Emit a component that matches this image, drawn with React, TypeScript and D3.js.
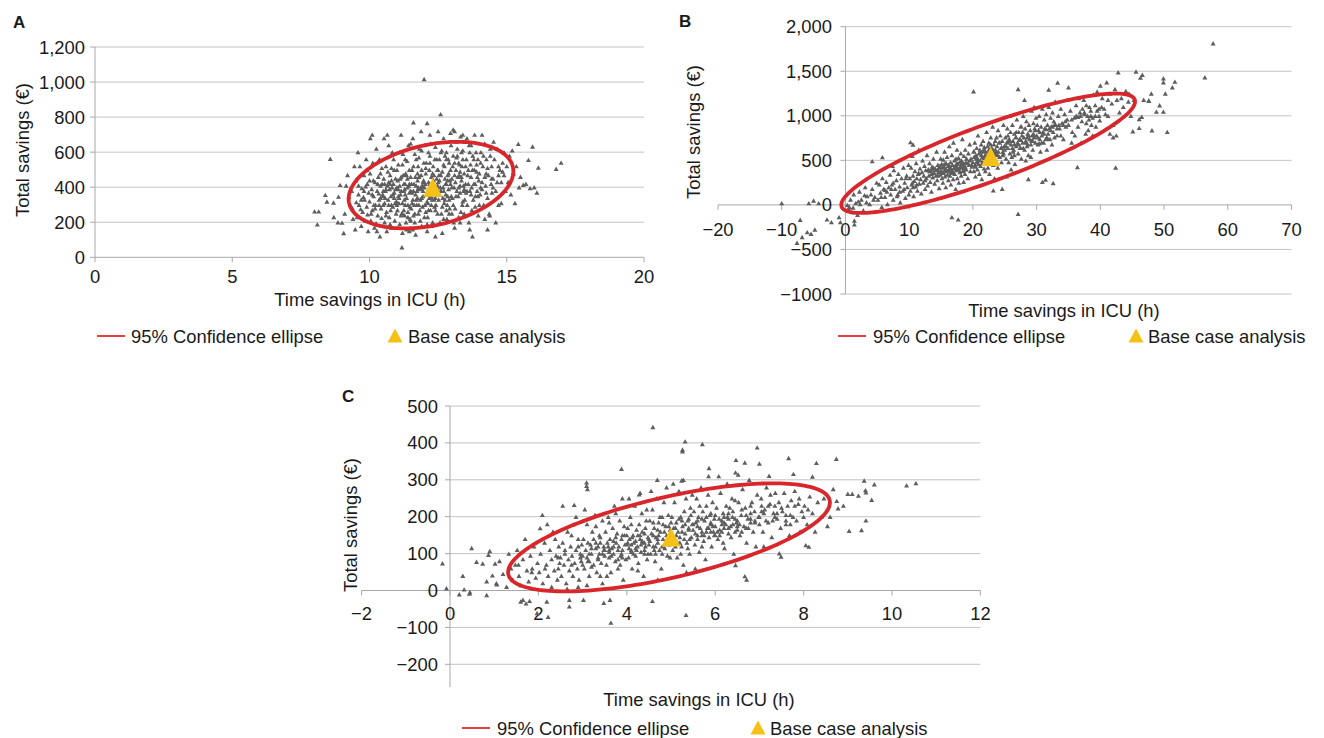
import React from "react";
import * as d3 from "d3";

type Pt = [number, number];

// ---------- Panel A data ----------
const A_POINTS: Pt[] = [
  [8.0,262],[8.15,262],[8.1,188],[8.57,562],[8.39,356],[8.45,318],[8.69,313],[8.87,346],[8.93,413],[8.85,200],[8.7,230],
  [9.06,139],[9.0,198],[9.1,250],[9.2,470],[9.3,300],[9.35,380],[9.15,410],[9.4,220],[9.45,520],[9.25,345],[9.48,160],[9.38,280],
  [9.5,440],[9.55,230],[9.6,360],[9.62,300],[9.65,520],[9.7,180],[9.72,395],[9.75,260],[9.8,470],[9.82,330],[9.85,210],[9.88,560],[9.9,290],[9.92,420],[9.95,150],[9.97,370],[9.58,600],[9.68,275],[9.78,345],[9.86,405],[9.52,315],[9.93,245],
  [10.0,320],[10.02,480],[10.05,210],[10.08,390],[10.1,270],[10.12,540],[10.15,350],[10.18,170],[10.2,430],[10.22,300],[10.25,620],[10.28,380],[10.3,240],[10.32,460],[10.35,330],[10.38,120],[10.4,410],[10.42,280],[10.45,510],[10.48,360],[10.03,680],[10.06,250],[10.14,440],[10.24,195],[10.34,365],[10.44,225],[10.16,300],[10.36,560],[10.46,420],[10.1,700],[10.27,150],[10.4,340],
  [10.5,300],[10.52,450],[10.55,200],[10.58,380],[10.6,520],[10.62,260],[10.65,410],[10.68,330],[10.7,640],[10.72,230],[10.75,470],[10.78,350],[10.8,170],[10.82,400],[10.85,290],[10.88,560],[10.9,370],[10.92,210],[10.95,450],[10.98,320],[10.53,680],[10.57,340],[10.63,150],[10.67,490],[10.73,390],[10.77,270],[10.83,600],[10.87,420],[10.93,310],[10.97,250],[10.55,420],[10.6,390],[10.7,300],[10.8,440],[10.9,500],[10.75,190],[10.65,700],[10.85,360],
  [11.0,400],[11.02,270],[11.05,530],[11.08,340],[11.1,190],[11.12,450],[11.15,380],[11.18,57],[11.2,310],[11.22,590],[11.25,420],[11.28,240],[11.3,360],[11.32,480],[11.35,160],[11.38,400],[11.4,300],[11.42,640],[11.45,370],[11.48,220],[11.03,440],[11.07,310],[11.13,360],[11.17,250],[11.23,470],[11.27,330],[11.33,200],[11.37,550],[11.43,410],[11.47,290],[11.05,390],[11.15,460],[11.25,380],[11.35,340],[11.45,500],[11.1,600],[11.2,140],[11.3,420],[11.4,260],[11.15,700],[11.45,150],[11.28,390],[11.38,450],
  [11.5,380],[11.52,280],[11.55,500],[11.58,330],[11.6,771],[11.62,420],[11.65,200],[11.68,360],[11.7,560],[11.72,300],[11.75,440],[11.78,250],[11.8,390],[11.82,620],[11.85,330],[11.88,470],[11.9,180],[11.92,410],[11.95,350],[11.98,540],[11.53,420],[11.57,160],[11.63,300],[11.67,460],[11.73,380],[11.77,520],[11.83,270],[11.87,400],[11.93,290],[11.97,440],[11.5,650],[11.6,240],[11.7,410],[11.8,460],[11.9,340],[11.55,370],[11.65,590],[11.75,340],[11.85,210],[11.95,430],[11.99,1017],[11.58,680],[11.68,130],[11.88,720],[11.78,400],
  [12.0,400],[12.02,300],[12.05,480],[12.08,360],[12.1,766],[12.12,230],[12.15,430],[12.18,340],[12.2,580],[12.22,270],[12.25,460],[12.28,380],[12.3,200],[12.32,520],[12.35,330],[12.38,410],[12.4,630],[12.42,300],[12.45,450],[12.48,250],[12.03,420],[12.07,540],[12.13,310],[12.17,370],[12.23,650],[12.27,180],[12.33,440],[12.37,290],[12.43,390],[12.47,500],[12.05,260],[12.15,600],[12.25,350],[12.35,470],[12.45,360],[12.1,150],[12.2,700],[12.3,420],[12.4,120],[12.0,640],[12.18,500],[12.28,330],[12.38,560],[12.48,410],[12.12,380],
  [12.5,430],[12.52,330],[12.55,560],[12.59,817],[12.6,380],[12.62,250],[12.65,490],[12.68,400],[12.7,680],[12.72,310],[12.75,450],[12.78,360],[12.8,600],[12.82,220],[12.85,470],[12.88,390],[12.9,540],[12.92,280],[12.95,420],[12.98,350],[12.53,470],[12.57,200],[12.63,610],[12.67,340],[12.73,520],[12.77,420],[12.83,300],[12.87,560],[12.93,440],[12.97,640],[12.5,720],[12.6,470],[12.7,380],[12.8,420],[12.9,250],[12.55,360],[12.65,140],[12.75,580],[12.85,350],[12.95,710],[12.58,400],[12.88,480],
  [13.0,450],[13.02,340],[13.05,580],[13.08,400],[13.1,720],[13.12,280],[13.15,500],[13.18,380],[13.2,620],[13.22,460],[13.25,230],[13.28,530],[13.3,370],[13.32,690],[13.35,440],[13.38,300],[13.4,560],[13.42,410],[13.45,480],[13.48,660],[13.03,520],[13.07,200],[13.13,430],[13.17,570],[13.23,350],[13.27,470],[13.33,260],[13.37,520],[13.43,380],[13.47,330],[13.05,730],[13.15,660],[13.25,400],[13.35,600],[13.45,250],[13.1,170],[13.3,490],[13.4,700],
  [13.5,420],[13.53,560],[13.56,300],[13.6,500],[13.63,640],[13.66,380],[13.7,460],[13.73,270],[13.76,580],[13.8,420],[13.83,700],[13.86,350],[13.9,530],[13.93,460],[13.96,240],[13.52,370],[13.58,470],[13.62,200],[13.68,530],[13.72,400],[13.78,330],[13.82,500],[13.88,600],[13.92,380],[13.98,440],[13.55,680],[13.65,160],[13.75,120],[13.85,290],[13.95,560],
  [14.0,480],[14.03,360],[14.06,600],[14.1,430],[14.13,520],[14.16,300],[14.2,650],[14.23,410],[14.26,560],[14.3,340],[14.33,470],[14.36,250],[14.4,580],[14.43,420],[14.46,370],[14.1,700],[14.2,220],[14.3,160],[14.38,240],[14.05,540],[14.25,480],[14.45,520],
  [14.5,450],[14.55,560],[14.6,380],[14.65,620],[14.7,300],[14.75,500],[14.8,430],[14.85,540],[14.9,600],[14.95,380],[14.6,200],[14.7,520],[14.8,310],[14.9,470],[14.52,660],
  [15.0,520],[15.05,430],[15.1,580],[15.15,360],[15.2,610],[15.25,480],[15.3,310],[15.35,520],[15.42,647],[15.45,400],
  [15.5,460],[15.6,414],[15.7,420],[15.79,556],[15.85,395],[15.94,632],[16.0,400],[16.1,370],[16.15,512],[16.8,505],[16.98,540]
];
const A_POINTS_CORE: Pt[] = [
  [10.1,360],[10.3,420],[10.5,350],[10.7,430],[10.9,340],[11.1,410],[11.3,300],[11.5,460],[11.7,330],[11.9,500],[12.1,320],[12.3,480],[12.5,380],[12.7,530],[12.9,330],[13.1,470],[13.3,410],[13.5,520],[13.7,360],[13.9,490],[14.1,390],[14.3,510],[14.5,400],[14.7,470],
  [10.2,280],[10.4,480],[10.6,240],[10.8,510],[11.0,300],[11.2,530],[11.4,230],[11.6,380],[11.8,570],[12.0,230],[12.2,420],[12.4,340],[12.6,600],[12.8,270],[13.0,400],[13.2,580],[13.4,320],[13.6,420],[13.8,560],[14.0,300],[14.2,460],[14.4,620],
  [9.6,410],[9.8,380],[10.0,440],[9.7,330],[9.9,500],[11.05,350],[11.25,270],[11.45,420],[11.65,250],[11.85,390],[12.05,510],[12.25,300],[12.45,560],[12.65,290],[12.85,440],[13.05,300],[13.25,540],[13.45,390],[13.65,600],[13.85,420],[14.05,400],[14.25,370],[14.45,450],[14.65,430],[14.85,490],
  [10.35,300],[10.55,310],[10.75,420],[10.95,390],[11.15,240],[11.35,470],[11.55,310],[11.75,480],[11.95,380],[12.15,270],[12.35,400],[12.55,440],[12.75,330],[12.95,500],[13.15,350],[13.35,460],[13.55,380],[13.75,500],[13.95,350],[14.15,580],
  [11.0,500],[11.3,560],[11.6,520],[11.9,610],[12.2,540],[12.5,500],[12.8,560],[13.1,540],[13.4,610],[13.7,640],[11.2,250],[11.5,210],[11.8,300],[12.1,190],[12.4,270],[12.7,220],[13.0,250],[13.3,200],[10.5,380],[10.8,300]
];
const A_ELLIPSE = { cx: 12.24, cy: 412, rx: 3.0, ry: 247, rho: 0.32 };
const A_BASE: Pt = [12.3, 400];
const A_X_TICKS = [0, 5, 10, 15, 20];
const A_X_LABELS = ["0", "5", "10", "15", "20"];
const A_Y_TICKS = [0, 200, 400, 600, 800, 1000, 1200];
const A_Y_LABELS = ["0", "200", "400", "600", "800", "1,000", "1,200"];

// ---------- Panel B data ----------
const B_POINTS: Pt[] = [
  [-10.0,20],[-7.1,-166],[-5.75,20],[-5.0,50],[-4.2,20],[-6.0,-305],[-5.4,-323],[-6.8,-360],[-7.6,-425],[-4.8,-276],[-2.9,-163],[-2.2,-193],[-1.0,-137],[-0.8,-193],[0.3,0],[0.6,-20],[1.4,-219],[1.4,-175],[16.7,-137],[17.7,-163],[4.2,491],[5.8,536],[10.2,704],[10.6,678],[7.4,440],[20.1,1276],
  [0.5,-40],[0.8,60],[1.0,-80],[1.3,120],[1.6,20],[1.9,-110],[2.2,150],[2.5,60],[2.8,-60],[3.1,200],[3.4,100],[3.8,10],[4.2,180],[4.6,90],[4.9,250],
  [5.1,60],[5.3,230],[5.5,140],[5.7,-20],[5.8,300],[6.0,180],[6.2,90],[6.4,260],[6.6,10],[6.8,200],[7.0,340],[7.1,120],[7.3,230],[7.5,60],[7.6,390],[7.8,180],[8.0,280],[8.1,100],[8.3,350],[8.5,210],[8.6,30],[8.8,300],[9.0,160],[9.1,420],[9.3,250],[9.4,80],[9.6,330],[9.7,200],[9.9,450],[9.95,120],
  [10.1,300],[10.2,160],[10.3,420],[10.4,230],[10.5,550],[10.6,330],[10.7,100],[10.8,270],[10.9,380],[11.0,210],[11.1,470],[11.2,300],[11.3,160],[11.4,350],[11.5,620],[11.6,240],[11.7,410],[11.8,290],[11.9,130],[12.0,370],[12.1,500],[12.2,250],[12.3,330],[12.4,440],[12.5,180],[12.6,390],[12.7,300],[12.8,560],[12.9,220],[13.0,400],[13.1,330],[13.2,470],[13.3,260],[13.4,380],[13.5,150],[13.6,430],[13.7,310],[13.8,520],[13.9,360],[14.0,240],[14.1,410],[14.2,330],[14.3,600],[14.4,280],[14.5,450],[14.6,370],[14.7,190],[14.8,420],[14.9,340],[14.95,520],
  [15.0,380],[15.1,460],[15.15,300],[15.2,420],[15.3,250],[15.35,510],[15.4,360],[15.5,430],[15.55,600],[15.6,320],[15.7,400],[15.75,200],[15.8,470],[15.9,380],[15.95,540],[16.0,340],[16.1,440],[16.15,280],[16.2,390],[16.3,660],[16.35,420],[16.4,330],[16.5,480],[16.55,230],[16.6,400],[16.7,560],[16.75,360],[16.8,450],[16.9,290],[16.95,700],[17.0,410],[17.1,500],[17.15,350],[17.2,440],[17.3,180],[17.35,520],[17.4,390],[17.5,620],[17.55,300],[17.6,460],[17.7,400],[17.75,530],[17.8,250],[17.9,480],[17.95,370],[18.0,430],[18.1,580],[18.15,330],[18.2,500],[18.3,420],[18.35,740],[18.4,380],[18.5,470],[18.55,260],[18.6,550],[18.7,440],[18.75,350],[18.8,620],[18.9,480],[18.95,400],[19.0,520],[19.2,300],[19.3,580],[19.4,450],[19.5,680],[19.6,380],[19.7,520],[19.85,430],
  [20.0,480],[20.1,600],[20.15,380],[20.2,540],[20.3,700],[20.35,450],[20.4,320],[20.5,560],[20.55,480],[20.6,640],[20.7,400],[20.75,520],[20.8,780],[20.9,460],[20.95,580],[21.0,350],[21.1,620],[21.15,500],[21.2,440],[21.3,680],[21.35,560],[21.4,290],[21.5,600],[21.55,480],[21.6,720],[21.7,530],[21.75,410],[21.8,650],[21.9,560],[21.95,380],[22.0,600],[22.1,480],[22.15,820],[22.2,540],[22.3,660],[22.35,420],[22.4,580],[22.5,700],[22.55,500],[22.6,350],[22.7,620],[22.75,560],[22.8,760],[22.9,480],[22.95,640],[23.0,540],[23.1,880],[23.15,600],[23.2,450],[23.3,680],[23.35,560],[23.4,300],[23.5,720],[23.55,620],[23.6,500],[23.7,760],[23.75,580],[23.8,660],[23.9,420],[23.95,840],[24.0,600],[24.1,700],[24.2,540],[24.3,780],[24.4,640],[24.5,480],[24.6,720],[24.7,600],[24.8,900],[24.9,660],[23.2,163],[24.6,182],
  [25.0,620],[25.1,760],[25.2,520],[25.3,700],[25.4,860],[25.5,640],[25.6,480],[25.7,740],[25.8,580],[25.9,820],[26.0,680],[26.1,540],[26.2,900],[26.3,720],[26.4,620],[26.5,800],[26.6,460],[26.7,760],[26.8,660],[26.9,960],[27.0,700],[27.1,580],[27.2,820],[27.3,740],[27.4,640],[27.5,880],[27.6,520],[27.7,780],[27.8,700],[27.9,1000],[28.0,760],[28.1,620],[28.2,860],[28.3,720],[28.4,940],[28.5,660],[28.6,800],[28.7,560],[28.8,900],[28.9,740],[29.0,840],[29.1,680],[29.2,1060],[29.3,780],[29.4,620],[29.5,920],[29.6,760],[29.7,860],[29.8,700],[29.9,980],[25.3,320],[26.0,400],[27.1,-99],[27.1,1300],[28.1,1180],[28.7,291],[25.8,1000],[26.5,560],[27.6,880],[28.3,500],[29.1,540],[29.6,1100],[25.5,780],[26.8,820],[27.9,640],
  [30.0,780],[30.1,900],[30.2,680],[30.3,840],[30.4,1000],[30.5,740],[30.6,600],[30.7,880],[30.8,780],[30.9,1080],[30.9,258],[31.4,284],[31.9,1295],[32.6,246],[33.3,1373],[31.0,820],[31.1,700],[31.2,960],[31.3,860],[31.4,740],[31.5,1020],[31.6,620],[31.7,900],[31.8,800],[31.9,1100],[32.0,860],[32.1,740],[32.2,980],[32.3,880],[32.4,680],[32.5,1040],[32.6,820],[32.7,940],[32.8,760],[32.9,1160],[33.0,900],[33.2,780],[33.4,1000],[33.6,860],[33.8,1080],[34.0,920],[34.2,740],[34.4,1020],[34.6,880],[34.8,1180],
  [35.0,1320],[35.0,900],[35.3,1060],[35.6,820],[35.9,980],[36.2,1120],[36.4,426],[36.5,880],[36.8,1040],[37.1,940],[37.4,1180],[37.7,800],[38.0,1000],[38.3,1100],[38.6,900],[38.9,1240],[39.2,1000],[39.5,1273],[39.8,1080],[40.0,1340],[35.5,700],[36.0,780],[36.6,1200],[37.0,700],[37.5,1020],[38.1,840],[38.8,780],[39.3,880],[39.9,950],[36.9,1000],[37.8,1120],[38.5,1060],
  [40.3,1200],[40.6,1080],[41.0,1377],[41.2,1000],[41.5,1250],[41.8,1140],[42.0,900],[42.3,1300],[42.4,420],[42.6,1180],[42.8,1489],[43.0,1040],[43.3,1200],[43.6,1100],[44.0,1280],[44.4,1160],[44.8,1000],[42.0,760],[42.5,780],[41.5,800],
  [45.1,827],[45.6,1497],[46.1,864],[46.1,964],[46.3,1430],[46.5,990],[46.6,1460],[47.6,1168],[47.6,1175],[48.0,1250],[48.1,838],[48.8,1047],[49.3,1118],[49.9,1047],[49.9,1422],[49.9,1377],[50.2,1250],[50.5,820],[51.3,1320],[51.7,1384],[56.4,1433],[57.7,1814],[45.3,1180],[46.8,1180],[44.5,1250]
];
const B_POINTS_CORE: Pt[] = [
  [6.5,150],[7.5,250],[8.5,150],[9.5,300],[10.5,250],[11.5,360],[12.5,280],[13.5,400],[14.5,330],[15.5,380],[16.5,420],[17.5,470],[18.5,420],[19.5,500],[20.5,520],[21.5,540],[22.5,620],[23.5,580],[24.5,650],[25.5,700],[26.5,680],[27.5,730],[28.5,760],[29.5,800],[30.5,820],[31.5,850],[32.5,880],[33.5,900],[34.5,940],[35.5,960],[36.5,990],[37.5,1040],[38.5,1000],[39.5,1060],
  [13.2,380],[13.8,420],[14.2,390],[14.8,440],[15.2,370],[15.8,400],[16.2,450],[16.8,380],[17.2,420],[17.8,400],[18.2,460],[18.8,430],[19.2,470],[19.8,450],[14.5,400],[15.5,460],[16.5,370],[17.5,430],[18.5,390],[13.5,350],
  [20.2,600],[20.8,500],[21.2,580],[21.8,620],[22.2,500],[22.8,680],[23.2,620],[23.8,560],[24.2,700],[24.8,580],[25.2,660],[25.8,720],[26.2,640],[26.8,760],[27.2,680],[27.8,820],[28.2,700],[28.8,780],[29.2,720],[29.8,840],[30.2,760],[30.8,700],[31.2,800],[31.8,740],[32.2,840],[32.8,900],[33.2,860],[33.8,780],[34.2,900],[34.8,960],
  [28.6,680],[29.4,720],[30.4,690],[31.6,760],[27.5,640],[26.3,600],[24.7,560],[23.3,520],[21.6,470],[20.4,430],[11.2,230],[10.6,200],[9.2,180],[8.2,120],[7.2,180],[6.2,170],[5.6,90],[4.4,60],[3.3,30],[2.3,10],[1.2,-30],[2.0,40],[3.0,110],[4.0,120],
  [36.2,1000],[37.2,1080],[38.2,960],[39.2,1120],[40.2,1100],[41.2,1180],[40.8,1020],[39.8,1000],[38.8,980],[37.8,920]
];
const B_ELLIPSE = { cx: 22.4, cy: 580, rx: 23.05, ry: 670, rho: 0.866 };
const B_BASE: Pt = [22.8, 543];
const B_X_TICKS = [-20, -10, 0, 10, 20, 30, 40, 50, 60, 70];
const B_X_LABELS = ["\u221220", "\u221210", "0", "10", "20", "30", "40", "50", "60", "70"];
const B_Y_TICKS = [-1000, -500, 0, 500, 1000, 1500, 2000];
const B_Y_LABELS = ["\u22121000", "\u2212500", "0", "500", "1,000", "1,500", "2,000"];

// ---------- Panel C data ----------
const C_POINTS: Pt[] = [
  [-0.17,74],[-0.08,6],[0.29,40],[0.49,115],[0.32,3],[0.21,-10],[0.44,-8],[0.45,-4],[0.6,78],[0.74,73],[0.9,107],[0.87,97],[0.83,25],[0.96,41],[1.02,73],[0.83,-12],[1.06,17],[1.65,-25],[1.72,-35],[1.8,-28],[1.6,-30],[1.97,-61],[2.19,-30],[2.22,-71],[2.7,-25],[2.7,-43],[3.02,-25],[3.48,-33],[3.62,-25],[3.64,-87],[4.58,-28],[5.34,-66],
  [4.59,443],[5.32,404],[5.26,382],[5.26,377],[5.71,397],[3.88,330],[3.09,293],[3.09,284],[3.11,275],[4.28,261],[4.69,300],[5.24,298],[2.81,232],[2.09,205],[2.04,169],
  [1.05,20],[1.12,80],[1.2,45],[1.28,10],[1.33,100],[1.38,60],[1.42,30],[1.48,70],
  [1.52,110],[1.56,40],[1.6,15],[1.65,85],[1.7,140],[1.74,55],[1.78,25],[1.82,95],[1.86,60],[1.9,120],[1.94,35],[1.98,75],
  [2.02,50],[2.05,100],[2.1,20],[2.14,130],[2.18,70],[2.22,40],[2.26,110],[2.3,85],[2.33,160],[2.36,55],[2.4,95],[2.43,30],[2.46,120],[2.48,75],[2.2,180],[2.3,10],[2.38,140],[2.45,60],
  [2.5,90],[2.52,40],[2.55,130],[2.58,70],[2.6,110],[2.63,20],[2.66,160],[2.68,85],[2.7,55],[2.73,120],[2.76,95],[2.78,40],[2.8,180],[2.82,75],[2.85,110],[2.88,60],[2.9,140],[2.92,30],[2.95,100],[2.97,80],[2.55,230],[2.65,5],[2.75,150],[2.85,200],[2.9,10],[2.98,125],
  [3.0,95],[3.02,140],[3.04,60],[3.07,110],[3.1,180],[3.12,80],[3.15,40],[3.18,125],[3.2,100],[3.22,160],[3.25,70],[3.28,205],[3.3,115],[3.32,50],[3.35,90],[3.38,150],[3.4,130],[3.42,75],[3.45,20],[3.48,110],[3.05,220],[3.1,15],[3.15,100],[3.2,65],[3.25,140],[3.3,175],[3.35,85],[3.4,40],[3.45,190],[3.48,120],[3.12,130],[3.38,100],
  [3.5,110],[3.52,160],[3.54,70],[3.56,130],[3.58,200],[3.6,90],[3.62,140],[3.64,50],[3.66,115],[3.68,170],[3.7,100],[3.72,230],[3.74,80],[3.76,130],[3.78,155],[3.8,60],[3.82,120],[3.84,190],[3.86,95],[3.88,140],[3.9,110],[3.92,30],[3.94,175],[3.96,125],[3.98,85],[3.55,40],[3.6,185],[3.65,95],[3.7,135],[3.75,210],[3.8,110],[3.85,70],[3.9,250],[3.95,150],[3.58,120],[3.88,100],
  [4.0,125],[4.02,170],[4.04,90],[4.06,140],[4.08,200],[4.1,110],[4.12,60],[4.14,150],[4.16,130],[4.18,230],[4.2,95],[4.22,165],[4.24,120],[4.26,75],[4.28,180],[4.3,140],[4.32,105],[4.34,210],[4.36,130],[4.38,40],[4.4,155],[4.42,120],[4.44,190],[4.46,85],[4.48,145],[4.05,250],[4.1,180],[4.15,100],[4.2,135],[4.25,55],[4.3,265],[4.35,160],[4.4,110],[4.45,220],[4.48,100],[4.02,130],[4.12,145],[4.22,110],[4.32,125],[4.42,170],
  [4.5,140],[4.52,190],[4.54,100],[4.56,155],[4.58,220],[4.6,120],[4.62,170],[4.64,80],[4.66,145],[4.68,250],[4.7,130],[4.72,185],[4.74,110],[4.76,160],[4.78,60],[4.8,200],[4.82,140],[4.84,240],[4.86,115],[4.88,175],[4.9,150],[4.92,95],[4.94,205],[4.96,130],[4.98,165],[4.55,270],[4.6,150],[4.65,120],[4.7,30],[4.75,200],[4.8,100],[4.85,160],[4.9,280],[4.95,125],[4.52,135],[4.62,110],[4.72,150],[4.82,180],[4.92,140],[4.98,90],
  [5.0,150],[5.02,200],[5.04,110],[5.06,170],[5.08,240],[5.1,135],[5.12,185],[5.14,90],[5.16,160],[5.18,270],[5.2,145],[5.22,200],[5.24,120],[5.26,175],[5.28,70],[5.3,215],[5.32,155],[5.34,250],[5.36,130],[5.38,190],[5.4,165],[5.42,100],[5.44,225],[5.46,145],[5.48,180],[5.05,290],[5.15,130],[5.25,160],[5.35,50],[5.45,205],[5.12,150],[5.22,100],[5.32,180],[5.42,140],[5.48,260],[5.18,195],[5.38,115],[5.28,300],
  [5.5,165],[5.52,215],[5.54,125],[5.56,185],[5.58,250],[5.6,150],[5.62,200],[5.64,105],[5.66,170],[5.68,280],[5.7,160],[5.72,215],[5.74,135],[5.76,190],[5.78,85],[5.8,230],[5.82,170],[5.84,260],[5.86,145],[5.88,205],[5.9,180],[5.92,120],[5.94,240],[5.96,160],[5.98,195],[5.55,60],[5.65,230],[5.75,150],[5.85,310],[5.95,175],[5.6,190],[5.7,120],[5.8,160],[5.9,210],[5.98,150],[5.86,332],
  [6.0,175],[6.03,225],[6.06,140],[6.09,195],[6.12,265],[6.15,160],[6.18,210],[6.21,115],[6.24,180],[6.27,290],[6.3,170],[6.33,225],[6.36,145],[6.39,200],[6.42,100],[6.45,245],[6.48,185],[6.05,160],[6.1,150],[6.15,190],[6.2,170],[6.25,230],[6.3,155],[6.35,175],[6.4,215],[6.45,160],[6.08,310],[6.18,130],[6.28,200],[6.38,250],[6.46,320],[6.47,354],
  [6.5,190],[6.53,240],[6.56,150],[6.59,205],[6.62,275],[6.65,175],[6.68,225],[6.71,130],[6.74,195],[6.77,300],[6.8,185],[6.83,240],[6.86,160],[6.89,215],[6.92,120],[6.95,260],[6.98,200],[6.55,180],[6.6,220],[6.7,170],[6.8,230],[6.9,190],[6.52,314],[6.67,347],[6.67,39],[6.71,30],[6.46,69],[6.95,388],
  [7.0,200],[7.04,250],[7.08,160],[7.12,220],[7.16,280],[7.2,185],[7.24,235],[7.28,145],[7.32,210],[7.36,265],[7.4,195],[7.44,240],[7.48,170],[7.05,215],[7.15,190],[7.25,260],[7.35,230],[7.45,101],[7.49,92],[7.0,344],[7.22,311],[7.1,120],
  [7.52,215],[7.56,265],[7.6,180],[7.64,230],[7.68,150],[7.72,245],[7.76,200],[7.8,270],[7.84,190],[7.88,235],[7.92,160],[7.96,215],[7.66,359],[7.77,316],[7.6,205],[7.9,250],
  [8.02,230],[8.08,180],[8.14,255],[8.2,210],[8.26,160],[8.32,240],[8.4,200],[8.46,250],[8.05,123],[8.12,119],[8.2,309],[8.29,346],
  [8.54,175],[8.67,275],[8.75,243],[8.78,223],[8.74,357],[9.0,262],[9.03,162],[9.1,262],[9.24,257],[9.31,164],[9.37,298],[9.4,272],[9.41,266],[9.41,190],[9.54,246],[9.6,288],[10.33,285],[10.54,291],[8.6,200],[8.9,230]
];
const C_POINTS_CORE: Pt[] = [
  [2.6,100],[2.9,120],[3.1,90],[3.3,130],[3.5,95],[3.7,120],[3.9,150],[4.1,105],[4.3,150],[4.5,125],[4.7,165],[4.9,130],[5.1,170],[5.3,140],[5.5,180],[5.7,150],[5.9,185],[6.1,165],[6.3,195],[6.5,175],[6.7,205],[6.9,185],[7.1,210],[7.3,190],[7.5,225],[7.7,205],
  [3.0,70],[3.2,115],[3.4,145],[3.6,105],[3.8,85],[4.0,150],[4.2,115],[4.4,100],[4.6,185],[4.8,120],[5.0,185],[5.2,130],[5.4,195],[5.6,140],[5.8,200],[6.0,150],[6.2,200],[6.4,180],[6.6,160],[6.8,210],[7.0,180],[7.2,230],[7.4,210],[7.6,190],[7.8,230],[8.0,200],
  [3.15,80],[3.45,100],[3.75,145],[4.05,115],[4.35,135],[4.65,100],[4.95,175],[5.25,190],[5.55,155],[5.85,170],[6.15,180],[6.45,195],[6.75,170],[7.05,230],[7.35,200],[2.75,70],[2.45,90],[2.15,60],[1.85,50],[1.55,70],
  [5.6,175],[5.9,160],[6.2,185],[6.5,165],[6.8,195],[6.0,205],[6.3,210],[5.7,195],[4.4,130],[4.1,125],[3.9,90],[3.6,110],[4.7,140],[5.1,120],[5.4,170],[4.25,150],[3.35,120],[2.95,90],[7.7,180],[8.1,220]
];
const C_ELLIPSE = { cx: 4.955, cy: 144, rx: 3.64, ry: 146.4, rho: 0.646 };
const C_BASE: Pt = [5.0, 145];
const C_X_TICKS = [-2, 0, 2, 4, 6, 8, 10, 12];
const C_X_LABELS = ["\u22122", "0", "2", "4", "6", "8", "10", "12"];
const C_Y_TICKS = [-200, -100, 0, 100, 200, 300, 400, 500];
const C_Y_LABELS = ["\u2212200", "\u2212100", "0", "100", "200", "300", "400", "500"];

const X_TITLE = "Time savings in ICU (h)";
const Y_TITLE = "Total savings (\u20ac)";
const LEGEND_ELLIPSE = "95% Confidence ellipse";
const LEGEND_BASE = "Base case analysis";

const FONT = "'Liberation Sans', Arial, Helvetica, sans-serif";
const GRID = "#c4c4c4";
const AXIS = "#a8a8a8";
const DOT = "#5e5e5e";
const RED = "#d9262b";
const GOLD = "#f5c116";

type PanelCfg = {
  letter: string;
  letterPos: [number, number];
  points: Pt[];
  ellipse: { cx: number; cy: number; rx: number; ry: number; rho: number };
  base: Pt;
  xTicks: number[];
  xLabels: string[];
  yTicks: number[];
  yLabels: string[];
  xDomain: [number, number];
  xRange: [number, number];
  yDomain: [number, number];
  yRange: [number, number];
  yAxisMin: number;
  yLabelRight: number;
  xLabelOffset: number;
  yTitlePos: [number, number];
  xTitlePos: [number, number];
  legend: { y: number; lineX: number; textX: number; triX: number; text2X: number };
};

const PANELS: PanelCfg[] = [
  {
    letter: "A", letterPos: [13, 28], points: A_POINTS.concat(A_POINTS_CORE), ellipse: A_ELLIPSE, base: A_BASE,
    xTicks: A_X_TICKS, xLabels: A_X_LABELS, yTicks: A_Y_TICKS, yLabels: A_Y_LABELS,
    xDomain: [0, 20], xRange: [95, 644], yDomain: [0, 1200], yRange: [257.3, 47], yAxisMin: 0,
    yLabelRight: 85, xLabelOffset: 26, yTitlePos: [22, 150], xTitlePos: [370, 306],
    legend: { y: 336, lineX: 97, textX: 131, triX: 395, text2X: 408 },
  },
  {
    letter: "B", letterPos: [679, 27], points: B_POINTS.concat(B_POINTS_CORE), ellipse: B_ELLIPSE, base: B_BASE,
    xTicks: B_X_TICKS, xLabels: B_X_LABELS, yTicks: B_Y_TICKS, yLabels: B_Y_LABELS,
    xDomain: [-20, 70], xRange: [718, 1291.5], yDomain: [-1000, 2000], yRange: [294, 26.7], yAxisMin: -1000,
    yLabelRight: 832, xLabelOffset: 31.5, yTitlePos: [693, 132], xTitlePos: [1064, 317],
    legend: { y: 336, lineX: 838, textX: 873, triX: 1136, text2X: 1148 },
  },
  {
    letter: "C", letterPos: [342, 402], points: C_POINTS.concat(C_POINTS_CORE), ellipse: C_ELLIPSE, base: C_BASE,
    xTicks: C_X_TICKS, xLabels: C_X_LABELS, yTicks: C_Y_TICKS, yLabels: C_Y_LABELS,
    xDomain: [-2, 12], xRange: [361.6, 980.4], yDomain: [-200, 500], yRange: [664.3, 406], yAxisMin: -262,
    yLabelRight: 438, xLabelOffset: 29, yTitlePos: [350, 525], xTitlePos: [699, 706],
    legend: { y: 728, lineX: 462, textX: 497, triX: 758, text2X: 770 },
  },
];

function Panel({ cfg }: { cfg: PanelCfg }) {
  const x = d3.scaleLinear().domain(cfg.xDomain).range(cfg.xRange);
  const y = d3.scaleLinear().domain(cfg.yDomain).range(cfg.yRange);
  const x0 = x(0);
  const y0 = y(0);
  const xRight = cfg.xRange[1];
  const yTop = y(cfg.yDomain[1]);

  const tri = (px: number, py: number, w: number, h: number) =>
    `M${px},${py - h / 2}L${px + w / 2},${py + h / 2}L${px - w / 2},${py + h / 2}Z`;
  const dotsPath = cfg.points.map(([a, b]) => tri(x(a), y(b), 5, 4.4)).join("");

  const e = cfg.ellipse;
  const phi = Math.acos(e.rho);
  const ts = d3.range(0, 2 * Math.PI, Math.PI / 90);
  const ellPts: [number, number][] = ts.map((t) => [
    x(e.cx + e.rx * Math.cos(t)),
    y(e.cy + e.ry * Math.cos(t - phi)),
  ]);
  const ellPath = d3.line().curve(d3.curveLinearClosed)(ellPts) || "";

  const bx = x(cfg.base[0]);
  const by = y(cfg.base[1]);

  const fs = 18.4;
  const dy = 6.5;
  return (
    <g fontFamily={FONT} fill="#1a1a1a">
      <text x={cfg.letterPos[0]} y={cfg.letterPos[1]} fontSize={17} fontWeight="bold">{cfg.letter}</text>
      {cfg.yTicks.map((t) =>
        t === 0 ? null : (
          <line key={"g" + t} x1={x0} x2={xRight} y1={y(t)} y2={y(t)} stroke={GRID} strokeWidth={1} />
        )
      )}
      {cfg.yTicks.map((t) => (
        <line key={"yt" + t} x1={x0 - 5} x2={x0} y1={y(t)} y2={y(t)} stroke={AXIS} strokeWidth={1} />
      ))}
      <line x1={cfg.xRange[0]} x2={xRight} y1={y0} y2={y0} stroke={AXIS} strokeWidth={1} />
      {cfg.xTicks.map((t) => (
        <line key={"xt" + t} x1={x(t)} x2={x(t)} y1={y0} y2={y0 + 5} stroke={AXIS} strokeWidth={1} />
      ))}
      <line x1={x0} x2={x0} y1={yTop} y2={y(cfg.yAxisMin)} stroke={AXIS} strokeWidth={1} />
      {cfg.yTicks.map((t, i) => (
        <text key={"yl" + t} x={cfg.yLabelRight} y={y(t) + dy} fontSize={fs} textAnchor="end">{cfg.yLabels[i]}</text>
      ))}
      {cfg.xTicks.map((t, i) => (
        <text key={"xl" + t} x={x(t)} y={y0 + cfg.xLabelOffset} fontSize={fs} textAnchor="middle">{cfg.xLabels[i]}</text>
      ))}
      <text transform={`translate(${cfg.yTitlePos[0] + dy},${cfg.yTitlePos[1]}) rotate(-90)`} fontSize={fs} textAnchor="middle">{Y_TITLE}</text>
      <text x={cfg.xTitlePos[0]} y={cfg.xTitlePos[1]} fontSize={fs} textAnchor="middle">{X_TITLE}</text>
      <path d={dotsPath} fill={DOT} />
      <path d={ellPath} fill="none" stroke={RED} strokeWidth={3.8} />
      <path d={tri(bx, by, 19, 19)} fill={GOLD} />
      <line x1={cfg.legend.lineX} x2={cfg.legend.lineX + 28} y1={cfg.legend.y} y2={cfg.legend.y} stroke="#e2413f" strokeWidth={2} />
      <text x={cfg.legend.textX} y={cfg.legend.y + dy} fontSize={fs}>{LEGEND_ELLIPSE}</text>
      <path d={tri(cfg.legend.triX, cfg.legend.y - 0.5, 15, 14)} fill={GOLD} />
      <text x={cfg.legend.text2X} y={cfg.legend.y + dy} fontSize={fs}>{LEGEND_BASE}</text>
    </g>
  );
}

export default function App() {
  return (
    <svg width={1324} height={738} viewBox="0 0 1324 738" style={{ display: "block", position: "absolute", left: 0, top: 0, background: "#fff" }}>
      <rect width={1324} height={738} fill="#fff" />
      {PANELS.map((p) => (
        <Panel key={p.letter} cfg={p} />
      ))}
    </svg>
  );
}
